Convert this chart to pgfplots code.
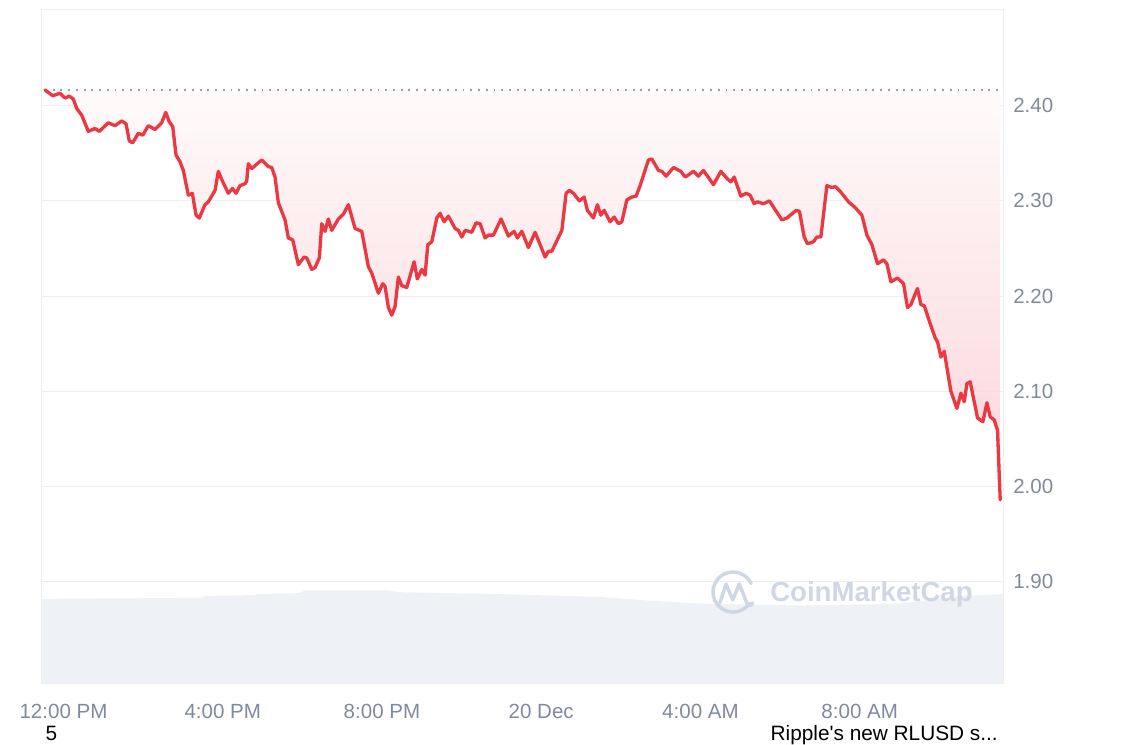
\documentclass[border=0pt]{standalone}
\usepackage{fontspec}
\setmainfont{Liberation Sans}
\usepackage{pgfplots}
\usepackage{pgfplotstable}
\pgfplotsset{compat=1.18}

\definecolor{cmcred}{HTML}{EA3943}
\definecolor{ticktext}{HTML}{808A9D}
\definecolor{gridc}{HTML}{ECEEF1}
\definecolor{volc}{HTML}{EEF1F5}
\definecolor{wmark}{HTML}{CFD6E4}
\definecolor{dotc}{HTML}{9AA1AD}

% hours after 12:00 PM, price in USD
\pgfplotstableread{
h v
-0.465 2.4165
-0.271 2.4105
-0.088 2.413
0.038 2.408
0.146 2.410
0.246 2.407
0.332 2.397
0.457 2.390
0.623 2.373
0.791 2.376
0.899 2.373
1.126 2.382
1.294 2.379
1.462 2.384
1.570 2.381
1.653 2.363
1.739 2.361
1.879 2.371
1.990 2.369
2.131 2.379
2.299 2.375
2.467 2.382
2.568 2.393
2.658 2.383
2.744 2.378
2.827 2.348
2.927 2.341
3.010 2.332
3.136 2.306
3.236 2.308
3.329 2.285
3.412 2.282
3.555 2.296
3.638 2.299
3.807 2.311
3.889 2.331
4.000 2.320
4.141 2.308
4.246 2.313
4.334 2.308
4.435 2.316
4.560 2.318
4.603 2.321
4.643 2.339
4.729 2.334
4.980 2.343
5.146 2.336
5.231 2.335
5.314 2.325
5.397 2.298
5.565 2.280
5.648 2.261
5.759 2.259
5.899 2.233
6.043 2.241
6.111 2.240
6.236 2.228
6.319 2.230
6.427 2.240
6.487 2.276
6.570 2.268
6.653 2.281
6.739 2.269
6.905 2.281
7.030 2.286
7.156 2.296
7.324 2.271
7.492 2.268
7.658 2.231
7.744 2.224
7.910 2.203
8.020 2.213
8.078 2.210
8.161 2.188
8.246 2.180
8.329 2.189
8.412 2.220
8.497 2.211
8.623 2.209
8.807 2.236
8.889 2.218
9.000 2.228
9.083 2.222
9.151 2.254
9.251 2.257
9.377 2.282
9.460 2.287
9.560 2.278
9.668 2.284
9.837 2.271
9.920 2.269
10.005 2.262
10.088 2.269
10.256 2.267
10.364 2.277
10.465 2.276
10.590 2.261
10.673 2.264
10.799 2.264
10.992 2.281
11.176 2.263
11.319 2.268
11.402 2.261
11.513 2.268
11.678 2.251
11.847 2.267
12.098 2.241
12.181 2.247
12.266 2.247
12.518 2.269
12.626 2.308
12.708 2.311
12.809 2.308
12.960 2.300
13.078 2.304
13.161 2.290
13.312 2.282
13.412 2.296
13.497 2.285
13.580 2.290
13.731 2.278
13.832 2.283
13.940 2.276
14.025 2.278
14.151 2.301
14.276 2.304
14.384 2.305
14.485 2.316
14.693 2.343
14.779 2.344
14.945 2.332
15.030 2.331
15.138 2.326
15.322 2.335
15.508 2.331
15.616 2.325
15.824 2.331
15.950 2.326
16.075 2.332
16.327 2.317
16.513 2.331
16.678 2.323
16.764 2.320
16.847 2.325
17.015 2.305
17.148 2.308
17.249 2.306
17.349 2.297
17.432 2.299
17.583 2.297
17.734 2.300
17.902 2.289
18.045 2.280
18.171 2.282
18.405 2.290
18.487 2.289
18.606 2.262
18.688 2.255
18.839 2.257
18.925 2.262
19.025 2.262
19.176 2.316
19.302 2.314
19.385 2.315
19.510 2.310
19.719 2.299
19.887 2.293
20.055 2.285
20.181 2.264
20.307 2.254
20.447 2.234
20.598 2.238
20.683 2.234
20.784 2.215
20.950 2.219
21.101 2.213
21.201 2.188
21.286 2.191
21.452 2.208
21.538 2.191
21.621 2.190
21.771 2.171
21.897 2.156
21.955 2.152
22.040 2.136
22.123 2.142
22.291 2.100
22.442 2.082
22.543 2.098
22.626 2.089
22.693 2.108
22.776 2.110
22.960 2.072
23.095 2.068
23.196 2.088
23.279 2.073
23.379 2.070
23.462 2.059
23.530 1.986
}\pricedata

\begin{document}
\begin{tikzpicture}
\useasboundingbox (0,0) rectangle (856.5pt,558pt);
\begin{axis}[
    at={(31.5pt,45.75pt)}, anchor=south west,
    scale only axis,
    width=720.75pt, height=504.75pt,
    xmin=-0.54, xmax=23.6,
    ymin=1.7936, ymax=2.5005,
    axis line style={draw=gridc, line width=0.75pt},
    ymajorgrids,
    grid style={draw=gridc, line width=0.75pt},
    ytick={1.9,2.0,2.1,2.2,2.3,2.4},
    yticklabel pos=right,
    xtick={0,4,8,12,16,20},
    xticklabels={12:00 PM,4:00 PM,8:00 PM,20 Dec,4:00 AM,8:00 AM},
    major tick length=0pt,
    scaled y ticks=false,
    ticklabel style={font=\fontsize{15.4}{18}\selectfont, text=ticktext, inner sep=0pt},
    xticklabel style={anchor=north, yshift=-15.75pt},
    yticklabel style={anchor=west, xshift=7.5pt,
        /pgf/number format/.cd, fixed, fixed zerofill, precision=2, assume math mode=true},
]
% volume (drawn on the price scale)
\addplot[fill=volc, draw=none] coordinates {
    (-0.54,1.7936) (-0.54,1.882) (3.43,1.883) (3.56,1.885) (4.81,1.886)
    (4.89,1.887) (5.94,1.888) (6.07,1.891) (8.08,1.891) (8.45,1.889)
    (10.97,1.887) (13.48,1.884) (14.74,1.880) (15.99,1.877) (18.50,1.875)
    (21.01,1.877) (22.52,1.885) (23.6,1.887) (23.6,1.7936)};

% area between the price and the opening level
\addplot[draw=none, top color={rgb,255:red,255;green,250;blue,250},
    bottom color={rgb,255:red,250;green,208;blue,214}, fill opacity=0.9]
    table {\pricedata} -- (axis cs:23.53,2.4165) -- cycle;

\addplot[draw=dotc, line width=1.4pt, dash pattern=on 1.4pt off 4.4pt]
    coordinates {(-0.465,2.4165) (23.53,2.4165)};
\addplot[draw=cmcred, line width=2.5pt, line join=round, line cap=round]
    table {\pricedata};
\end{axis}

% watermark
\begin{scope}[wmark, line width=2.6pt, line cap=round, line join=round]
  \draw (549.75pt,114pt) ++(25:15pt) arc[start angle=25, end angle=325, radius=15pt];
  \draw (540pt,106pt) -- (544.5pt,120pt) -- (549.5pt,108pt) -- (554.5pt,120pt) -- (560pt,106pt) .. controls (561pt,103pt) and (563pt,103pt) .. (564.5pt,106pt);
\end{scope}
\node[anchor=west, inner sep=0pt, text=wmark, font=\fontsize{20.7}{24}\selectfont\bfseries]
    at (577.5pt,112.5pt) {CoinMarketCap};

% text below the chart
\node[anchor=base, inner sep=0pt, font=\fontsize{15.6}{18}\selectfont] at (38.6pt,3pt) {5};
\node[anchor=base west, inner sep=0pt, font=\fontsize{15.6}{18}\selectfont] at (577.8pt,3pt) {Ripple\textquotesingle s new RLUSD s...};
\end{tikzpicture}
\end{document}
